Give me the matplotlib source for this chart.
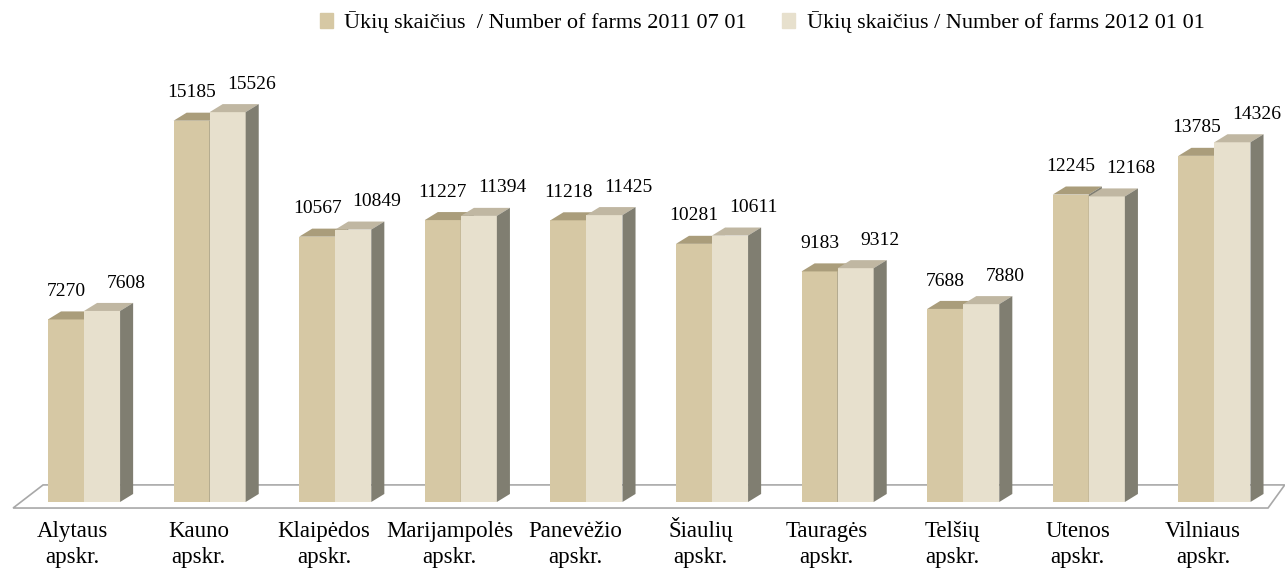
import matplotlib.pyplot as plt
from matplotlib.patches import Polygon, Patch

# duomenys
regions = ['Alytaus\napskr.', 'Kauno\napskr.', 'Klaipėdos\napskr.', 'Marijampolės\napskr.',
           'Panevėžio\napskr.', 'Šiaulių\napskr.', 'Tauragės\napskr.', 'Telšių\napskr.',
           'Utenos\napskr.', 'Vilniaus\napskr.']
farms_2011 = [7270, 15185, 10567, 11227, 11218, 10281, 9183, 7688, 12245, 13785]
farms_2012 = [7608, 15526, 10849, 11394, 11425, 10611, 9312, 7880, 12168, 14326]
legend_labels = ['Ūkių skaičius  / Number of farms 2011 07 01',
                 'Ūkių skaičius / Number of farms 2012 01 01']

plt.rcParams['font.family'] = ['Liberation Serif', 'DejaVu Serif']

# spalvos: priekis, viršus, šonas
c1 = ('#d6c8a4', '#aa9d7b', '#807e71')
c2 = ('#e7e0cd', '#c0b7a2', '#807e71')

fig = plt.figure(figsize=(12.85, 5.71), dpi=100)
ax = fig.add_axes([0, 0, 1, 1])
ax.set_xlim(-0.669, 9.562)
ax.set_ylim(-2748, 19992)
ax.axis('off')

w = 0.287   # stulpelio plotis
dx = 0.104  # gylis x
dy = 320    # gylis y

# grindys
floor = Polygon([(-0.565, -240), (9.427, -240), (9.56, 680), (-0.326, 680)],
                closed=True, fc='white', ec='#a8a8a8', lw=1.2, zorder=1)
ax.add_patch(floor)


def bar3d(xs, hs, cols):
    ax.bar(xs, hs, width=w, align='edge', color=cols[0], zorder=3)
    for x0, h in zip(xs, hs):
        top = [(x0, h), (x0 + w, h), (x0 + w + dx, h + dy), (x0 + dx, h + dy)]
        side = [(x0 + w, 0), (x0 + w + dx, dy), (x0 + w + dx, h + dy), (x0 + w, h)]
        ax.add_patch(Polygon(top, closed=True, fc=cols[1], ec='none', zorder=3))
        ax.add_patch(Polygon(side, closed=True, fc=cols[2], ec='none', zorder=3))


idx = list(range(len(regions)))
x1 = [i - w for i in idx]
x2 = [i for i in idx]
bar3d(x1, farms_2011, c1)
bar3d(x2, farms_2012, c2)

# reikšmių žymės (antros serijos žymės pastumtos į dešinę, kaip originale)
for xs, vals, shift in ((x1, farms_2011, 0.0), (x2, farms_2012, 0.19)):
    for x0, v in zip(xs, vals):
        ax.annotate(f'{v}', (x0 + w / 2 + shift, v), xytext=(0, 14),
                    textcoords='offset points', ha='center', va='bottom',
                    fontsize=14, zorder=4)

# kategorijų pavadinimai - kiekviena eilutė atskirai
for i, lab in zip(idx, regions):
    for k, line in enumerate(lab.split('\n')):
        ax.text(i - 0.09, -1394 - k * 1020, line, ha='center', va='baseline',
                fontsize=16.5)

handles = [Patch(color=c1[0]), Patch(color=c2[0])]
fig.legend(handles, legend_labels, loc='upper center', bbox_to_anchor=(0.593, 1.015),
           ncol=2, frameon=False, fontsize=16, handlelength=0.6, handleheight=0.7,
           handletextpad=0.5, columnspacing=1.6)

fig.savefig('out.png', dpi=100)
